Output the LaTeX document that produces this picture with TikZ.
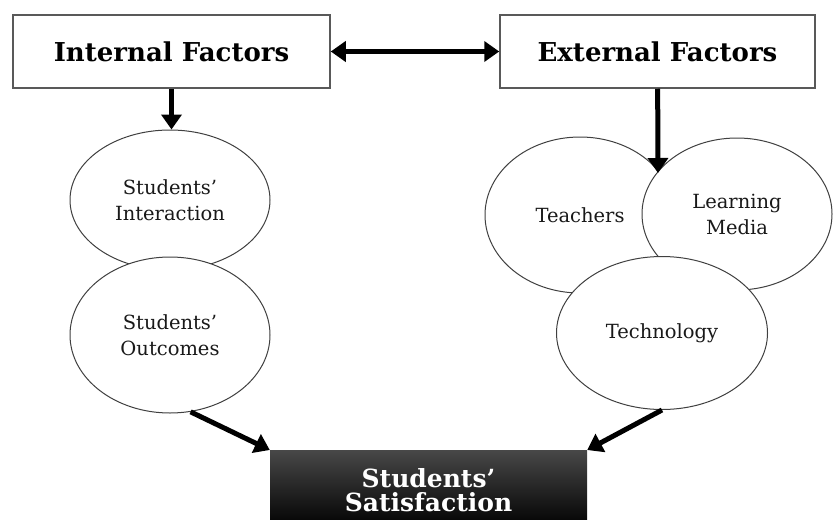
\documentclass[tikz,border=0pt]{standalone}
\usepackage{fontspec}
\setmainfont{DejaVu Serif}
\usetikzlibrary{arrows.meta,shapes.geometric,positioning}
\begin{document}
\begin{tikzpicture}[x=1pt, y=-1pt,
        factor/.style={draw=black!65, line width=1.5pt, fill=white, minimum width=317pt, minimum height=73pt, font=\fontsize{26}{28}\selectfont\bfseries},
        aspect/.style={ellipse, draw=black!75, line width=1pt, fill=white, inner sep=0pt, align=center, text=black!90, font=\fontsize{19.5}{26}\selectfont},
        link/.style={line width=5pt, -{Triangle[length=15pt, width=20pt]}}]
        \useasboundingbox (0,0) rectangle (834,519);
        % Boxes
        \node (int) at (171.5,51.5) [factor] {Internal Factors};
        \node (ext) at (657.5,51.5) [factor, minimum width=315pt] {External Factors};
        \node (sat) at (428.5,450) [anchor=north, minimum width=317pt, minimum height=79pt, top color=black!72, bottom color=black, text=white, align=center, font=\fontsize{25}{24}\selectfont\bfseries] {Students’\\Satisfaction};
        % Ellipses
        \node (intact) at (170,200) [aspect, minimum width=200pt, minimum height=140pt] {Students’\\Interaction};
        \node (outc) at (170,335) [aspect, minimum width=200pt, minimum height=156pt] {Students’\\Outcomes};
        \node (teach) at (580,215) [aspect, minimum width=190pt, minimum height=156pt] {Teachers};
        \node (media) at (737,214) [aspect, minimum width=190pt, minimum height=152pt] {Learning\\Media};
        \node (tech) at (662,333) [aspect, minimum width=211pt, minimum height=153pt] {Technology};
        \coordinate (hub) at (658,173);
        % Arrows
        \draw[link, {Triangle[length=15pt, width=20pt]}-{Triangle[length=15pt, width=20pt]}] (int) -- (ext);
        \draw[link] (int.south) -- (int.south |- intact.north);
        \draw[link] (ext) -- (hub);
        \draw[link] (outc.285) -- (sat.north west);
        \draw[link] (tech.south) -- (sat.north east);
    \end{tikzpicture}
\end{document}
